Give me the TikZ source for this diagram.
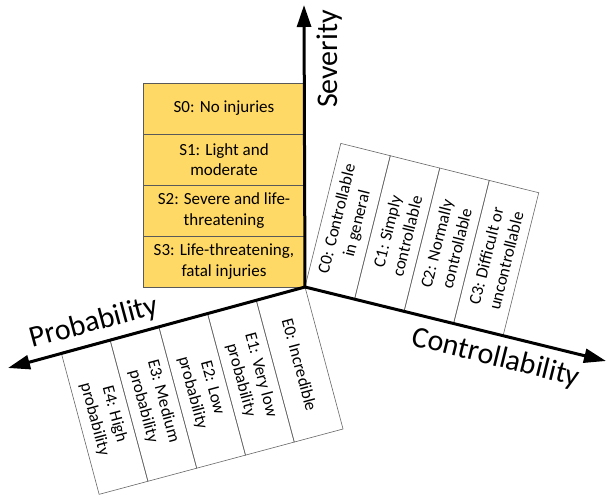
\documentclass[tikz,border=0pt]{standalone}
\usepackage{fontspec}
\setmainfont{Carlito}
\usetikzlibrary{arrows.meta,calc}
\definecolor{sevfill}{HTML}{FFD966}
\begin{document}
\begin{tikzpicture}[x=1pt,y=1pt,
  boxfont/.style={font=\fontsize{17}{20.5}\selectfont},
  sevbox/.style={draw=black!65, line width=0.7pt, fill=sevfill, minimum width=162pt, minimum height=51pt, inner sep=1pt, align=center, boxfont},
  colbox/.style={draw=black!60, line width=0.6pt, minimum height=51pt, inner sep=1pt, align=center, boxfont},
  cbox/.style={colbox, rotate=76, minimum width=148pt, minimum height=51pt},
  ebox/.style={colbox, rotate=-75, minimum width=147pt, minimum height=50.5pt},
  axis/.style={line width=3pt, -{Triangle[length=22pt,width=14pt]}},
  axlabel/.style={font=\fontsize{30}{36}\selectfont, inner sep=0pt}]
\useasboundingbox (0,0) rectangle (606,499);
\coordinate (O) at (305,212);
\coordinate (Stip) at (304,494);
\coordinate (Ctip) at (606,138);
\coordinate (Ptip) at (8,131);

% Severity boxes
\node[sevbox] (s0) at (224,390.5) {S0: No injuries};
\node[sevbox] (s1) at (224,339.5) {S1: Light and\\moderate};
\node[sevbox] (s2) at (224,288.5) {S2: Severe and life-\\threatening};
\node[sevbox] (s3) at (224,237.5) {S3: Life-threatening,\\fatal injuries};

% Controllability columns
\node[cbox] (c0) at ($(O)+(-14:25.5)+(76:74)$) {C0: Controllable\\in general};
\node[cbox] (c1) at ($(O)+(-14:76.5)+(76:74)$) {C1: Simply\\controllable};
\node[cbox] (c2) at ($(O)+(-14:127.5)+(76:74)$) {C2: Normally\\controllable};
\node[cbox] (c3) at ($(O)+(-14:178.5)+(76:74)$) {C3: Difficult or\\uncontrollable};

% Probability columns
\node[ebox] (e0) at ($(O)+(195:25.25)+(285:73.5)$) {E0: Incredible};
\node[ebox] (e1) at ($(O)+(195:75.75)+(285:73.5)$) {E1: Very low\\probability};
\node[ebox] (e2) at ($(O)+(195:126.25)+(285:73.5)$) {E2: Low\\probability};
\node[ebox] (e3) at ($(O)+(195:176.75)+(285:73.5)$) {E3: Medium\\probability};
\node[ebox] (e4) at ($(O)+(195:227.25)+(285:73.5)$) {E4: High\\probability};

% Axes
\draw[axis] (O) -- (Stip);
\draw[axis] (O) -- (Ctip);
\draw[axis] (O) -- (Ptip);
\fill (O) circle (1.5pt);

% Axis labels
\node[axlabel, rotate=90] (slab) at (330,440) {Severity};
\node[axlabel, rotate=-14] (clab) at (496,141) {Controllability};
\node[axlabel, rotate=15] (plab) at (94,176) {Probability};
\end{tikzpicture}
\end{document}
